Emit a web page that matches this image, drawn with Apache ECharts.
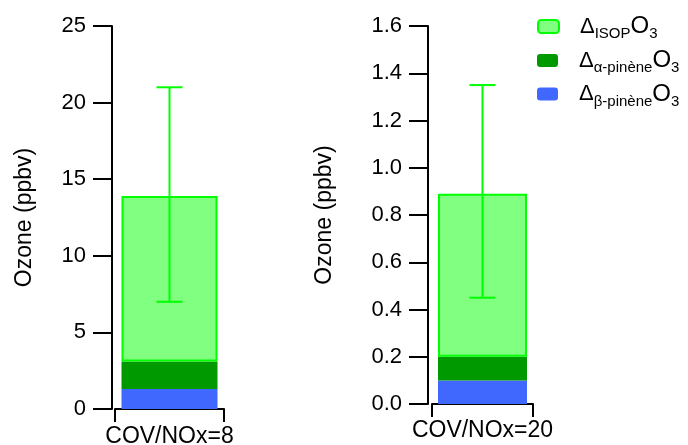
<!DOCTYPE html>
<html>
<head>
<meta charset="utf-8">
<script src="https://cdn.jsdelivr.net/npm/echarts@6/dist/echarts.min.js"></script>
<style>
html,body{margin:0;padding:0;background:#fff;}
#main{width:688px;height:445px;}
</style>
</head>
<body>
<div id="main"></div>
<script>
// ---- data ----
const categoriesLeft = ['COV/NOx=8'];
const categoriesRight = ['COV/NOx=20'];
const seriesNames = ['ISOP', 'apinene', 'bpinene'];
// stacked segment values (ppbv), bottom to top: beta-pinene, alpha-pinene, isoprene
const betaLeft = [1.3];
const alphaLeft = [1.8];
const isopLeft = [10.8];
const errLeft = [[7, 21]];
const betaRight = [0.1];
const alphaRight = [0.1];
const isopRight = [0.69];
const errRight = [[0.45, 1.35]];
const yTicksLeft = {min: 0, max: 25, interval: 5};
const yTicksRight = {min: 0, max: 1.6, interval: 0.2};

const FONT = 'Liberation Sans, Arial, sans-serif';
const C_ISOP = '#80ff80', C_ISOP_B = '#00ff00', C_A = '#009900', C_B = '#4068ff';

const chart = echarts.init(document.getElementById('main'), null, {renderer: 'canvas'});

function xAxis(gi, cats, off) {
  return {
    type: 'category', gridIndex: gi, data: cats, offset: off,
    axisLine: {lineStyle: {color: '#000', width: 2}},
    axisTick: {show: true, length: 13, lineStyle: {color: '#000', width: 2}, alignWithLabel: false},
    axisLabel: {color: '#000', fontSize: 23, fontFamily: FONT, margin: 13}
  };
}
function yAxis(gi, t, off, gap, fmt) {
  return {
    type: 'value', gridIndex: gi, min: t.min, max: t.max, interval: t.interval, offset: off,
    name: 'Ozone (ppbv)', nameLocation: 'middle', nameGap: gap,
    nameTextStyle: {color: '#000', fontSize: 23, fontFamily: FONT},
    axisLine: {show: true, lineStyle: {color: '#000', width: 2}},
    axisTick: {show: true, length: 19, lineStyle: {color: '#000', width: 2}},
    axisLabel: {color: '#000', fontSize: 22, fontFamily: FONT, margin: 26, formatter: fmt},
    splitLine: {show: false}
  };
}
function errSeries(xi, yi, data) {
  return {
    type: 'custom', xAxisIndex: xi, yAxisIndex: yi, z: 10,
    data: data.map((d, i) => [i, d[0], d[1]]),
    renderItem: function (params, api) {
      const lo = api.coord([api.value(0), api.value(1)]);
      const hi = api.coord([api.value(0), api.value(2)]);
      const hw = 13;
      const st = {stroke: C_ISOP_B, lineWidth: 2};
      return {type: 'group', children: [
        {type: 'line', shape: {x1: lo[0], y1: lo[1], x2: hi[0], y2: hi[1]}, style: st},
        {type: 'line', shape: {x1: lo[0] - hw, y1: lo[1], x2: lo[0] + hw, y2: lo[1]}, style: st},
        {type: 'line', shape: {x1: hi[0] - hw, y1: hi[1], x2: hi[0] + hw, y2: hi[1]}, style: st}
      ]};
    }
  };
}
function bars(xi, yi, b, a, s, w) {
  return [
    {name: 'bpinene', type: 'bar', stack: 's' + xi, xAxisIndex: xi, yAxisIndex: yi, data: b, barWidth: w,
     itemStyle: {color: C_B}},
    {name: 'apinene', type: 'bar', stack: 's' + xi, xAxisIndex: xi, yAxisIndex: yi, data: a, barWidth: w,
     itemStyle: {color: C_A}},
    {name: 'ISOP', type: 'bar', stack: 's' + xi, xAxisIndex: xi, yAxisIndex: yi, data: s, barWidth: w,
     itemStyle: {color: C_ISOP, borderColor: C_ISOP_B, borderWidth: 2}}
  ];
}
const rich = {
  d: {fontSize: 22, fontFamily: FONT, color: '#000', lineHeight: 26, padding: [0, 0, 0, 16]},
  o: {fontSize: 24, fontFamily: FONT, color: '#000', lineHeight: 26},
  s: {fontSize: 15, fontFamily: FONT, color: '#000', lineHeight: 15, padding: [13, 0, 0, 0], verticalAlign: 'top'}
};
const labelMap = {
  'ISOP': '{d|Δ}{s|ISOP}{o|O}{s|3}',
  'apinene': '{d|Δ}{s|α-pinène}{o|O}{s|3}',
  'bpinene': '{d|Δ}{s|β-pinène}{o|O}{s|3}'
};
function legend(name, top) {
  return {
    data: [name], left: 537, top: top, orient: 'vertical',
    itemWidth: 21, itemHeight: 13, padding: 0,
    formatter: n => labelMap[n],
    textStyle: {rich: rich}
  };
}

chart.setOption({
  animation: false,
  backgroundColor: '#fff',
  grid: [
    {left: 115, top: 26, width: 109, height: 383, containLabel: false, outerBoundsMode: 'none'},
    {left: 432, top: 26, width: 101, height: 378, containLabel: false, outerBoundsMode: 'none'}
  ],
  xAxis: [xAxis(0, categoriesLeft, 3), xAxis(1, categoriesRight, 2)],
  yAxis: [
    yAxis(0, yTicksLeft, 3, 76, v => String(v)),
    yAxis(1, yTicksRight, 4, 92, v => v.toFixed(1))
  ],
  legend: [legend('ISOP', 13.5), legend('apinene', 47.5), legend('bpinene', 81)],
  series: [
    ...bars(0, 0, betaLeft, alphaLeft, isopLeft, 96),
    ...bars(1, 1, betaRight, alphaRight, isopRight, 89),
    errSeries(0, 0, errLeft),
    errSeries(1, 1, errRight)
  ]
});
</script>
</body>
</html>
